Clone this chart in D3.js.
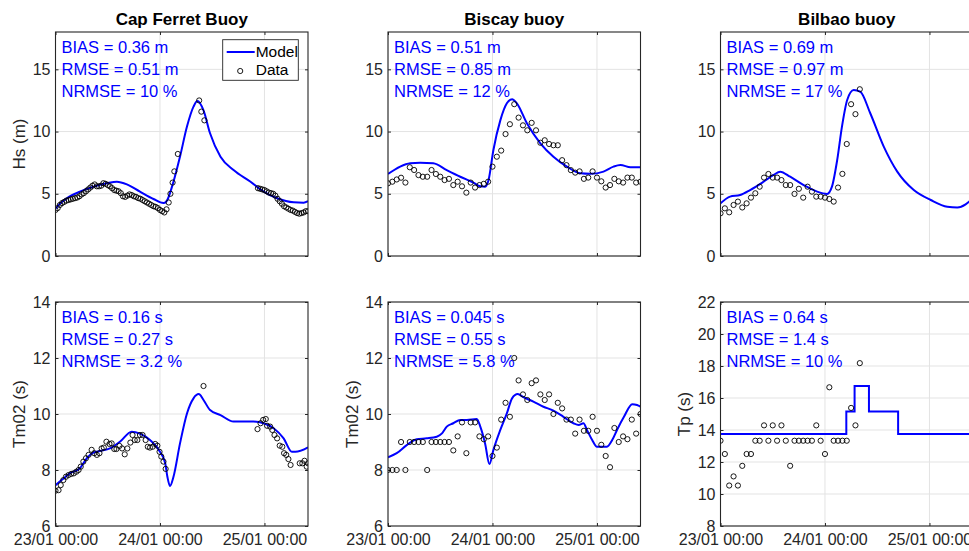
<!DOCTYPE html>
<html>
<head>
<meta charset="utf-8"/>
<title>Buoy comparison</title>
<script src="https://cdn.jsdelivr.net/npm/d3@7"></script>
<style>
  body { margin: 0; background: #fff; }
  svg text { font-family: "Liberation Sans", Arial, Helvetica, sans-serif; }
</style>
</head>
<body>
<svg id="chart" width="969" height="551"></svg>
<script>
// Time is stored as hours after 23/01 00:00 (storm Klaus, 2009)
var startTime = Date.UTC(2009, 0, 23, 0, 0);
var endHour = 58;
var xTickHours = [0, 24, 48];

var hsTicks = [0, 5, 10, 15];
var tm02Ticks = [6, 8, 10, 12, 14];
var tpTicks = [8, 10, 12, 14, 16, 18, 20, 22];

var titles = ["Cap Ferret Buoy", "Biscay buoy", "Bilbao buoy"];

// ---- Cap Ferret, Hs
var capFerretHsModel = [[0,3.8],[1,4.2],[2.6,4.64],[5.6,5.17],[8.7,5.57],[11.8,5.84],[14.1,5.97],[16.4,5.76],
  [19.4,5.17],[22.5,4.58],[24.8,4.25],[25.5,4.4],[27.1,5.97],[28.6,7.98],[30.2,10.4],[31.7,12.0],[32.6,12.45],
  [34.0,11.7],[35.5,9.86],[37.9,7.98],[40.9,6.91],[44.8,5.97],[47.8,5.17],[50.9,4.64],[54.7,4.31],[57,4.28],[58,4.4]];
var capFerretHsData = [[0,3.7],[0.5,3.85],[1,4.1],[1.5,4.25],[2,4.35],[2.5,4.45],[3,4.5],[3.5,4.55],[4,4.6],[4.5,4.65],
  [5,4.7],[5.5,4.8],[6,4.95],[6.5,5.05],[7,5.2],[7.5,5.35],[8,5.5],[8.5,5.65],[9,5.75],[9.5,5.6],[10,5.6],[10.5,5.65],
  [11,5.85],[11.5,5.8],[12,5.7],[12.5,5.6],[13,5.45],[13.5,5.3],[14,5.25],[14.5,5.2],[15,5.05],[15.5,4.8],[16,4.75],
  [16.5,4.85],[17,4.95],[17.5,4.9],[18,4.8],[18.5,4.75],[19,4.65],[19.5,4.6],[20,4.5],[20.5,4.4],[21,4.3],[21.5,4.2],
  [22,4.1],[22.5,4.0],[23,3.95],[23.5,3.85],[24,3.7],[24.5,3.6],[25,3.5],[25.5,3.75],
  [26.0,4.3],[26.4,5.0],[26.9,5.9],[27.3,6.8],[28.1,8.2],[33.0,12.5],[33.5,11.6],[34.2,10.9],
  [46.5,5.45],[47,5.4],[47.5,5.35],[48,5.3],[48.5,5.2],[49,5.1],[49.5,5.05],[50,5.0],[50.5,4.85],[51,4.6],[51.5,4.4],
  [52,4.2],[52.5,4.0],[53,3.9],[53.5,3.8],[54,3.7],[54.5,3.65],[55,3.55],[55.5,3.45],[56,3.4],[56.5,3.45],[57,3.5],
  [57.5,3.6],[58,3.6]];
var capFerretHsStats = ["BIAS = 0.36 m", "RMSE = 0.51 m", "NRMSE = 10 %"];

// ---- Biscay, Hs
var biscayHsModel = [[0,6.59],[2.8,7.18],[5.1,7.45],[7.4,7.5],[10.4,7.45],[13.5,6.9],[16.6,6.37],[19.6,5.9],[21.2,5.6],
  [22.3,5.57],[23.1,6.1],[24.2,8.5],[25.8,10.9],[27.3,12.27],[28.5,12.6],[29.6,12.27],[31.9,10.67],[35,9.06],[38,7.98],
  [41.1,7.18],[44.2,6.64],[46.5,6.6],[49.5,6.78],[51.8,7.18],[53.4,7.31],[55.7,7.13],[58,7.13]];
var biscayHsData = [[0,5.84],[1,5.97],[2,6.15],[3,6.29],[4,5.9],[5,7.13],[6,6.91],[7,6.5],[8,6.37],[9,6.37],[10,6.91],
  [11,6.59],[12,6.37],[13,6.1],[14,6.2],[15,5.7],[16,5.97],[17,5.6],[18,5.09],[19,5.9],[20,5.5],[21,5.7],[22,5.8],
  [23,5.97],[24,7.18],[25,7.98],[26,8.47],[27,9.8],[28,10.59],[29,12.2],[30,11.12],[31,10.5],[32,10.1],[33,10.7],
  [34,10.1],[35,9.1],[36,9.3],[37,9.0],[38,8.9],[39,8.9],[40,7.7],[41,7.3],[42,6.9],[43,6.7],[44,6.8],[45,6.2],
  [46,6.3],[47,6.8],[48,6.3],[49,6.0],[50,5.5],[51,5.7],[52,6.2],[53,6.0],[54,5.9],[55,6.3],[56,6.3],[57,5.9],[58,5.97]];
var biscayHsStats = ["BIAS = 0.51 m", "RMSE = 0.85 m", "NRMSE = 12 %"];

// ---- Bilbao, Hs
var bilbaoHsModel = [[0,4.23],[2.2,4.77],[4.5,4.9],[6.8,5.3],[9.9,5.97],[12.2,6.51],[13.7,6.78],[16.0,6.37],[19.1,5.7],
  [22.2,5.17],[24.5,4.99],[25.6,5.57],[26.8,7.7],[27.9,10.4],[29.1,12.54],[30.6,13.34],[32.1,13.2],[34.4,11.47],
  [37.5,8.79],[40.6,6.78],[44.4,5.3],[48.3,4.5],[52.1,3.96],[54.4,3.9],[56.3,4.15],[57.2,4.4],[58,4.65]];
var bilbaoHsData = [[0,3.43],[1,3.83],[2,3.51],[3,4.1],[4,4.37],[5,3.9],[6,4.23],[7,4.69],[8,5.04],[9,5.57],[10,6.3],
  [11,6.59],[12,6.3],[13,6.3],[14,6.1],[15,5.7],[16,5.7],[17,4.99],[18,5.4],[19,4.69],[20,5.57],[21,5.17],[22,4.77],
  [23,4.77],[24,4.69],[25,4.58],[26,4.37],[27,5.5],[28,6.6],[29,9.0],[30,12.2],[31,11.4],[32,13.4]];
var bilbaoHsStats = ["BIAS = 0.69 m", "RMSE = 0.97 m", "NRMSE = 17 %"];

// ---- Cap Ferret, Tm02
var capFerretTmModel = [[0,7.46],[1.4,7.64],[3.3,7.88],[5.6,8.06],[7.2,8.42],[8.7,8.62],[10.2,8.68],[12.5,8.77],
  [14.8,9.01],[17.5,9.37],[19.4,9.3],[21.7,9.07],[24.0,8.65],[25.2,8.24],[25.7,7.76],[26.3,7.43],[27.1,7.76],
  [28.6,8.95],[30.2,10.02],[31.7,10.56],[32.9,10.71],[34,10.5],[35.5,10.14],[37.9,9.96],[40.9,9.73],[43.2,9.73],
  [45.5,9.73],[47.8,9.67],[50.1,9.49],[52.4,9.13],[54.3,8.65],[55.1,8.65],[58,8.81]];
var capFerretTmData = [[0,7.26],[0.7,7.28],[1.2,7.46],[1.8,7.64],[2.4,7.76],[3.0,7.82],[3.6,7.86],[4.2,7.88],[4.8,7.94],
  [5.3,8.0],[5.8,8.12],[6.4,8.3],[7.0,8.42],[7.6,8.54],[8.3,8.72],[8.9,8.6],[9.5,8.54],[10.1,8.6],[10.6,8.77],[11.1,8.8],
  [11.7,9.01],[12.4,8.93],[12.9,8.95],[13.5,8.75],[14,8.75],[14.7,8.86],[15.3,8.77],[15.9,8.56],[16.5,8.77],[17.2,8.98],
  [17.7,9.25],[18.2,9.07],[18.8,9.07],[19.4,9.25],[20.0,9.25],[20.7,9.07],[21.2,8.83],[21.7,8.8],[22.3,8.83],[22.9,8.93],
  [23.4,8.87],[23.9,8.65],[24.3,8.48],[24.8,8.3],[25.3,8.04],[34.0,11.0],
  [46.4,9.46],[47.1,9.67],[47.7,9.79],[48.3,9.82],[48.6,9.58],[49.3,9.55],[49.8,9.43],[50.3,9.25],[50.9,9.13],[51.5,8.87],
  [52.1,8.83],[52.5,8.6],[53,8.54],[53.5,8.39],[54.0,8.18],[56.1,8.24],[56.7,8.24],[57.2,8.33],[57.7,8.12],[58,8.24]];
var capFerretTmStats = ["BIAS = 0.16 s", "RMSE = 0.27 s", "NRMSE = 3.2 %"];

// ---- Biscay, Tm02
var biscayTmModel = [[0,8.45],[2.0,8.6],[4.3,8.89],[6.6,9.1],[8.9,9.13],[11.2,9.19],[12.4,9.31],[13.5,9.55],[15.0,9.67],
  [16.6,9.79],[18.1,9.79],[20.4,9.82],[21.2,9.55],[22.3,8.95],[23.3,8.21],[24.2,8.71],[25.8,9.43],[27.3,10.02],
  [28.5,10.56],[29.8,10.71],[31.1,10.6],[33.4,10.44],[35.7,10.26],[38.0,10.12],[40.3,9.9],[42.6,9.67],[43.8,9.61],
  [44.9,9.67],[45.7,9.43],[46.9,9.07],[48.0,8.83],[50.3,8.83],[51.5,9.07],[52.6,9.43],[54.2,9.9],[56.1,10.35],
  [57.2,10.32],[58,10.26]];
var biscayTmData = [[0,8.0],[1,8.0],[2,8.0],[3,9.0],[4,8.0],[5,9.0],[6,9.0],[7,9.0],[8,9.0],[9,8.0],[10,9.0],[11,9.0],
  [12,9.0],[13,9.0],[14,9.0],[15,8.7],[16,9.2],[17,9.7],[18,8.6],[19,9.7],[20,9.7],[21,9.2],[22,9.1],[23,9.2],[24,8.5],
  [25,8.8],[26,9.8],[27,10.4],[28,9.9],[29,12.0],[30,11.2],[31,10.7],[32,10.5],[33,11.1],[34,11.2],[35,10.7],[36,10.5],
  [37,10.7],[38,10.0],[39,10.4],[40,10.2],[41,9.8],[42,9.8],[43,9.3],[44,9.8],[45,9.4],[46,9.4],[47,9.9],[48,9.4],
  [49,8.9],[50,8.5],[51,8.1],[52,9.5],[53,9.0],[54,9.2],[55,9.1],[56,9.8],[57,9.3],[58,10.0]];
var biscayTmStats = ["BIAS = 0.045 s", "RMSE = 0.55 s", "NRMSE = 5.8 %"];

// ---- Bilbao, Tp (model is a stepped series)
var bilbaoTpModel = [[0,13.75],[28.9,15.15],[30.8,16.75],[34.1,15.15],[40.8,13.75],[58,13.75]];
var bilbaoTpData = [[0,13.33],[1,12.5],[2,10.53],[3,11.1],[4,10.53],[5,11.76],[6,12.5],[7,12.5],[8,13.33],[9,13.33],
  [10,14.29],[11,13.33],[12,14.29],[13,13.33],[14,14.29],[15,13.33],[16,11.76],[17,13.33],[18,13.33],[19,13.33],
  [20,13.33],[21,13.33],[22,14.29],[23,13.33],[24,12.5],[25,16.67],[26,13.33],[27,13.33],[28,13.33],[29,13.33],
  [30,15.38],[31,14.29],[32,18.18]];
var bilbaoTpStats = ["BIAS = 0.64 s", "RMSE = 1.4 s", "NRMSE = 10 %"];

var panels = [
  {col: 0, row: 0, title: titles[0], ylabel: "Hs (m)", yDomain: [0, 18], yTicks: hsTicks, model: capFerretHsModel, data: capFerretHsData, stats: capFerretHsStats, legend: true},
  {col: 1, row: 0, title: titles[1], ylabel: null, yDomain: [0, 18], yTicks: hsTicks, model: biscayHsModel, data: biscayHsData, stats: biscayHsStats},
  {col: 2, row: 0, title: titles[2], ylabel: null, yDomain: [0, 18], yTicks: hsTicks, model: bilbaoHsModel, data: bilbaoHsData, stats: bilbaoHsStats},
  {col: 0, row: 1, title: null, ylabel: "Tm02 (s)", yDomain: [6, 14], yTicks: tm02Ticks, model: capFerretTmModel, data: capFerretTmData, stats: capFerretTmStats},
  {col: 1, row: 1, title: null, ylabel: "Tm02 (s)", yDomain: [6, 14], yTicks: tm02Ticks, model: biscayTmModel, data: biscayTmData, stats: biscayTmStats},
  {col: 2, row: 1, title: null, ylabel: "Tp (s)", yDomain: [8, 22], yTicks: tpTicks, model: bilbaoTpModel, data: bilbaoTpData, stats: bilbaoTpStats, step: true}
];

var colLeft = [55.5, 388, 720.5];
var rowTop = [32, 302];
var pw = 252.5, ph = 224;
var axisColor = "#262626";

function toDate(h) { return new Date(startTime + h * 3600e3); }
var fmt = d3.utcFormat("%d/%m %H:%M");

var svg = d3.select("#chart");

panels.forEach(function(p, i) {
  var g = svg.append("g")
    .attr("transform", "translate(" + colLeft[p.col] + "," + rowTop[p.row] + ")");

  var x = d3.scaleUtc().domain([toDate(0), toDate(endHour)]).range([0, pw]);
  var y = d3.scaleLinear().domain(p.yDomain).range([ph, 0]);
  var xTicks = xTickHours.map(toDate);

  g.append("rect").attr("width", pw).attr("height", ph).attr("fill", "#fff");

  // grid
  g.append("g").selectAll("line").data(xTicks).join("line")
    .attr("x1", function(d) { return x(d); }).attr("x2", function(d) { return x(d); })
    .attr("y1", 0).attr("y2", ph)
    .attr("stroke", "#e3e3e3").attr("stroke-width", 1);
  g.append("g").selectAll("line").data(p.yTicks).join("line")
    .attr("x1", 0).attr("x2", pw)
    .attr("y1", function(d) { return y(d); }).attr("y2", function(d) { return y(d); })
    .attr("stroke", "#e3e3e3").attr("stroke-width", 1);

  // inward ticks on all four sides
  var left = g.append("g").call(d3.axisLeft(y).tickValues(p.yTicks).tickSize(-3).tickPadding(5));
  var right = g.append("g").attr("transform", "translate(" + pw + ",0)")
    .call(d3.axisRight(y).tickValues(p.yTicks).tickSize(-3).tickFormat(""));
  var top = g.append("g").call(d3.axisTop(x).tickValues(xTicks).tickSize(-3).tickFormat(""));
  var bottom = g.append("g").attr("transform", "translate(0," + ph + ")")
    .call(d3.axisBottom(x).tickValues(xTicks).tickSize(-3).tickPadding(8)
      .tickFormat(p.row === 1 ? fmt : ""));

  [left, right, top, bottom].forEach(function(a) {
    a.select(".domain").remove();
    a.selectAll(".tick line").attr("stroke", axisColor);
    a.selectAll("text").attr("fill", axisColor).attr("font-size", 16)
      .attr("font-family", "'Liberation Sans', Arial, sans-serif");
  });

  // model + data, clipped to the axes
  var clipId = "clip" + i;
  g.append("clipPath").attr("id", clipId)
    .append("rect").attr("width", pw).attr("height", ph);
  var plot = g.append("g").attr("clip-path", "url(#" + clipId + ")");

  var line = d3.line()
    .x(function(d) { return x(toDate(d[0])); })
    .y(function(d) { return y(d[1]); })
    .curve(p.step ? d3.curveStepAfter : d3.curveMonotoneX);

  plot.append("path").datum(p.model)
    .attr("d", line).attr("fill", "none")
    .attr("stroke", "#0000ff").attr("stroke-width", 2);

  plot.append("g").selectAll("circle").data(p.data).join("circle")
    .attr("cx", function(d) { return x(toDate(d[0])); })
    .attr("cy", function(d) { return y(d[1]); })
    .attr("r", 2.6).attr("fill", "none")
    .attr("stroke", "#000").attr("stroke-width", 0.9);

  // box
  g.append("rect").attr("width", pw).attr("height", ph)
    .attr("fill", "none").attr("stroke", axisColor).attr("stroke-width", 1.1);

  // stats text
  g.append("g").selectAll("text").data(p.stats).join("text")
    .attr("x", 6).attr("y", function(d, k) { return 20.5 + 22 * k; })
    .attr("fill", "#0000ff").attr("font-size", 16.5)
    .text(function(d) { return d; });

  if (p.title) {
    g.append("text").attr("x", pw / 2).attr("y", -7)
      .attr("text-anchor", "middle").attr("font-weight", "bold")
      .attr("font-size", 17).attr("fill", "#000").text(p.title);
  }
  if (p.ylabel) {
    g.append("text")
      .attr("transform", "translate(-36," + (ph / 2) + ") rotate(-90)")
      .attr("dy", "0.35em").attr("text-anchor", "middle")
      .attr("font-size", 17).attr("fill", axisColor).text(p.ylabel);
  }

  if (p.legend) {
    var lg = g.append("g").attr("transform", "translate(" + (222.7 - colLeft[0]) + "," + (39.7 - rowTop[0]) + ")");
    lg.append("rect").attr("width", 75.6).attr("height", 40.6)
      .attr("fill", "#fff").attr("stroke", axisColor).attr("stroke-width", 0.9);
    lg.append("line").attr("x1", 4).attr("x2", 32).attr("y1", 12.3).attr("y2", 12.3)
      .attr("stroke", "#0000ff").attr("stroke-width", 2);
    lg.append("text").attr("x", 33).attr("y", 17.5).attr("font-size", 15.5)
      .attr("fill", "#000").text("Model");
    lg.append("circle").attr("cx", 17.5).attr("cy", 31.3).attr("r", 2.6)
      .attr("fill", "none").attr("stroke", "#000").attr("stroke-width", 0.9);
    lg.append("text").attr("x", 33).attr("y", 35.5).attr("font-size", 15.5)
      .attr("fill", "#000").text("Data");
  }
});
</script>
</body>
</html>
